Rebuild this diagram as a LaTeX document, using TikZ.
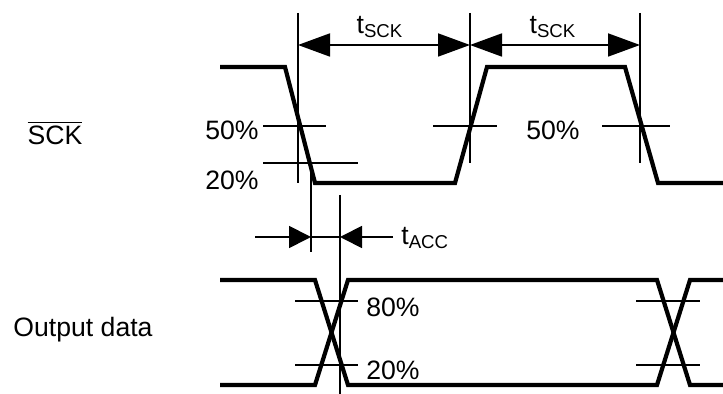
\documentclass[tikz,border=0pt]{standalone}
\usepackage{fontspec}
\setmainfont{Liberation Sans}
\usetikzlibrary{arrows.meta}
\tikzset{
  wave/.style={line width=2.1pt},
  tick/.style={line width=0.9pt},
  dimarr/.style={line width=0.9pt,-{Triangle[length=16pt,width=11.5pt]}},
  accarr/.style={line width=0.9pt,-{Triangle[length=11pt,width=11pt]}},
  lbl/.style={inner sep=0pt,font=\fontsize{13.3}{16}\selectfont}
}
\begin{document}
\begin{tikzpicture}[x=0.5pt,y=-0.5pt]
          \useasboundingbox (0,0) rectangle (723,394);

          % signal names
          \node[lbl] (sck) at (55,133) {$\overline{\mbox{SCK}}$};
          \node[lbl] (dout) at (83,330) {Output data};

          % SCK waveform
          \draw[wave] (220,67) -- (285,67) -- (315,183) -- (455,183) -- (487,67)
                      -- (625,67) -- (658,183) -- (723,183);

          % reference lines
          \coordinate (v1t) at (298,13);  \coordinate (v1b) at (298,183);
          \coordinate (v2t) at (470,13);  \coordinate (v2b) at (470,163);
          \coordinate (v3t) at (640,13);  \coordinate (v3b) at (640,163);
          \draw[tick] (v1t) -- (v1b);
          \draw[tick] (v2t) -- (v2b);
          \draw[tick] (v3t) -- (v3b);

          \draw[tick] (263,126) -- (326,126);
          \draw[tick] (263,163) -- (358,163);
          \draw[tick] (433,126) -- (497,126);
          \draw[tick] (602,126) -- (670,126);

          \node[lbl,anchor=east] (p50a) at (259,130) {50\%};
          \node[lbl,anchor=east] (p20a) at (259,180) {20\%};
          \node[lbl] (p50b) at (553,130) {50\%};

          % t_SCK
          \coordinate (a1) at (298,45); \coordinate (a2) at (470,45); \coordinate (a3) at (640,45);
          \coordinate (m1) at (384,45); \coordinate (m2) at (555,45);
          \draw[dimarr] (m1) -- (a1);
          \draw[dimarr] (m1) -- (a2);
          \draw[dimarr] (m2) -- (a2);
          \draw[dimarr] (m2) -- (a3);
          \node[lbl] (tsck1) at (380,27) {t\textsubscript{SCK}};
          \node[lbl] (tsck2) at (553,27) {t\textsubscript{SCK}};

          % t_ACC
          \coordinate (w1t) at (311,168); \coordinate (w1b) at (311,252);
          \coordinate (w2t) at (340,195); \coordinate (w2b) at (340,394);
          \draw[tick] (w1t) -- (w1b);
          \draw[tick] (w2t) -- (w2b);
          \coordinate (c1) at (311,237); \coordinate (c2) at (340,237);
          \coordinate (s1) at (255,237); \coordinate (s2) at (393,237);
          \draw[accarr] (s1) -- (c1);
          \draw[accarr] (s2) -- (c2);
          \draw[tick] (c1) -- (c2);
          \node[lbl,anchor=west] (tacc) at (401,238) {t\textsubscript{ACC}};

          % output data
          \draw[wave] (220,280) -- (315,280) -- (348,385) -- (657,385) -- (690,280) -- (723,280);
          \draw[wave] (220,385) -- (315,385) -- (348,280) -- (657,280) -- (690,385) -- (723,385);

          \draw[tick] (295,301) -- (358,301);
          \draw[tick] (295,365) -- (358,365);
          \draw[tick] (636,301) -- (700,301);
          \draw[tick] (636,365) -- (700,365);

          \node[lbl] (p80c) at (393,307) {80\%};
          \node[lbl] (p20c) at (393,370) {20\%};
        \end{tikzpicture}
\end{document}
